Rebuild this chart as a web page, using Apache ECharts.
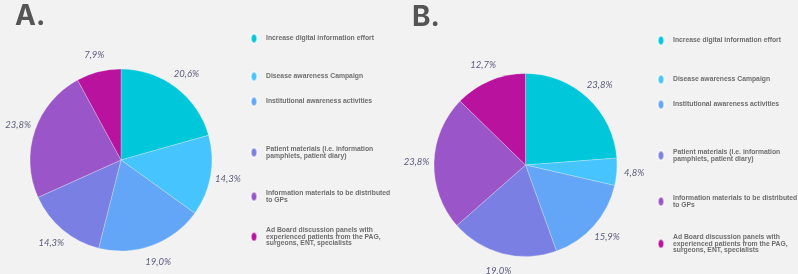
<!DOCTYPE html>
<html>
<head>
<meta charset="utf-8">
<script src="https://cdn.jsdelivr.net/npm/echarts@6/dist/echarts.min.js"></script>
<style>
  html, body { margin: 0; padding: 0; background: #f2f2f2; }
  #chart { width: 798px; height: 274px; }
</style>
</head>
<body>
<div id="chart"></div>
<script>
// answer categories, clockwise from 12 o'clock
const categories = [
  'Increase digital information effort',
  'Disease awareness Campaign',
  'Institutional awareness activities',
  'Patient materials (i.e. information pamphlets, patient diary)',
  'Information materials to be distributed to GPs',
  'Ad Board discussion panels with experienced patients from the PAG, surgeons, ENT, specialists'
]
// how the legend wraps each name
const legendText = [
  'Increase digital information effort',
  'Disease awareness Campaign',
  'Institutional awareness activities',
  'Patient materials (i.e. information\npamphlets, patient diary)',
  'Information materials to be distributed\nto GPs',
  'Ad Board discussion panels with\nexperienced patients from the PAG,\nsurgeons, ENT, specialists'
]
const valuesA = [20.6, 14.3, 19.0, 14.3, 23.8, 7.9]
const valuesB = [23.8, 4.8, 15.9, 19.0, 23.8, 12.7]
const colors = ['#00c8da', '#46c4fe', '#63a6f8', '#7a7fe3', '#9a56c8', '#b8129f']

const chart = echarts.init(document.getElementById('chart'))

const pct = v => v.toFixed(1).replace('.', ',') + '%'
const toData = vals => vals.map((v, i) => ({ name: categories[i], value: v }))

const pieSeries = (vals, center, r) => [
  {
    type: 'pie',
    center,
    radius: [0, r],
    startAngle: 90,
    data: toData(vals),
    label: { show: false },
    labelLine: { show: false },
    itemStyle: { borderColor: 'rgba(255,255,255,0.5)', borderWidth: 0.5 },
    emphasis: { scale: false }
  },
  // invisible ring just to hold the percentage labels outside the pie
  {
    type: 'pie',
    center,
    radius: [r, r + 29],
    startAngle: 90,
    silent: true,
    data: toData(vals),
    itemStyle: { color: 'transparent' },
    label: {
      show: true,
      position: 'inside',
      formatter: p => pct(p.value),
      color: '#5c5b7e',
      fontSize: 9.5,
      fontStyle: 'italic',
      fontFamily: 'Lato'
    },
    labelLine: { show: false },
    emphasis: { disabled: true }
  }
]

const legendTopsA = [33, 71, 96, 146, 190, 227]
const legendTopsB = [35, 74, 99, 149, 195, 234]

const legendFor = (left, tops) => categories.map((name, i) => ({
  left,
  top: tops[i],
  data: [name],
  orient: 'vertical',
  itemWidth: 6,
  itemHeight: 9,
  icon: 'path://M3,0C4.7,0,6,2,6,4.5S4.7,9,3,9S0,7,0,4.5S1.3,0,3,0Z',
  selectedMode: false,
  padding: 0,
  formatter: n => legendText[categories.indexOf(n)],
  textStyle: {
    color: '#6e6e6e',
    fontSize: 6.8,
    lineHeight: 6.2,
    fontWeight: 'bold',
    fontFamily: 'Liberation Sans',
    padding: [0, 0, 0, 4]
  }
}))

chart.setOption({
  backgroundColor: '#f2f2f2',
  color: colors,
  animation: false,
  title: [
    { text: 'A.', left: 10, top: -2, textStyle: { fontSize: 28, fontWeight: 'bold', color: '#555', fontFamily: 'Inter' } },
    { text: 'B.', left: 407, top: -1, textStyle: { fontSize: 28, fontWeight: 'bold', color: '#555', fontFamily: 'Inter' } }
  ],
  legend: [...legendFor(250, legendTopsA), ...legendFor(657, legendTopsB)],
  series: [
    ...pieSeries(valuesA, [121, 160], 91),
    ...pieSeries(valuesB, [525.5, 165], 91.5)
  ]
})
</script>
</body>
</html>
